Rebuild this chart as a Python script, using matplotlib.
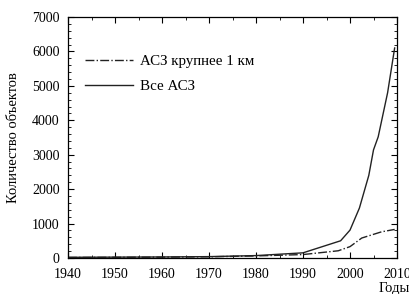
import matplotlib
matplotlib.use("Agg")
import matplotlib.pyplot as plt
from matplotlib.ticker import MultipleLocator

# все АСЗ
years_all = [1940, 1950, 1960, 1970, 1980, 1990, 1998, 2000, 2002, 2004, 2005, 2006, 2008, 2009.5]
count_all = [20, 25, 30, 40, 70, 150, 500, 810, 1450, 2400, 3140, 3520, 4800, 6100]
# АСЗ крупнее 1 км
years_big = [1940, 1950, 1960, 1970, 1980, 1990, 1997.5, 2000, 2002.5, 2006.7, 2009.5]
count_big = [15, 20, 25, 35, 60, 100, 210, 330, 580, 760, 830]

plt.rcParams["font.family"] = ["Liberation Serif", "DejaVu Serif"]
plt.rcParams["font.size"] = 10

fig = plt.figure(figsize=(4.10, 2.94), dpi=100)
ax = fig.add_axes([68 / 410, 1 - 258 / 294, 329 / 410, 241 / 294])

ax.plot(years_big, count_big, color="#222222", lw=1.0, ls="-.", label="АСЗ крупнее 1 км")
ax.plot(years_all, count_all, color="#222222", lw=1.0, ls="-", label="Все АСЗ")

ax.set_xlim(1940, 2010)
ax.set_ylim(0, 7000)
ax.xaxis.set_major_locator(MultipleLocator(10))
ax.xaxis.set_minor_locator(MultipleLocator(5))
ax.yaxis.set_major_locator(MultipleLocator(1000))
ax.yaxis.set_minor_locator(MultipleLocator(200))
ax.tick_params(which="both", direction="in", top=True, right=True)
ax.tick_params(which="major", length=4, width=0.8)
ax.tick_params(which="minor", length=2, width=0.6)
ax.tick_params(axis="x", which="major", pad=7)
ax.tick_params(axis="y", which="major", pad=6)
for s in ax.spines.values():
    s.set_linewidth(0.9)

ax.set_ylabel("Количество объектов", fontsize=10.5, labelpad=9)
fig.text(1.0, 1 - 282 / 294, "Годы", ha="right", va="top", fontsize=10.5)

ax.legend(loc="upper left", bbox_to_anchor=(0.01, 0.90), frameon=False,
          handlelength=3.2, handletextpad=0.5, labelspacing=0.75, fontsize=10.8)

fig.savefig("out.png", dpi=100)
